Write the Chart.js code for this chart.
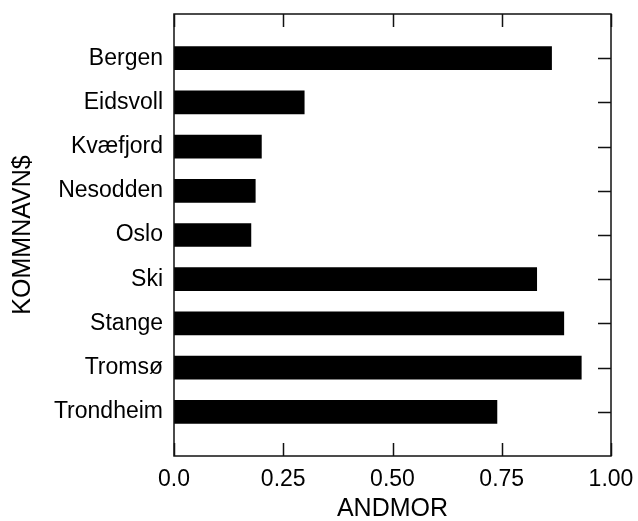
<!DOCTYPE html>
<html>
<head>
<meta charset="utf-8">
<script src="https://cdn.jsdelivr.net/npm/chart.js@4/dist/chart.umd.min.js"></script>
<style>
  html, body { margin: 0; padding: 0; background: #fff; }
  #wrap { width: 638px; height: 521px; }
</style>
</head>
<body>
<div id="wrap"><canvas id="c" width="638" height="521"></canvas></div>
<script>
// Share of mothers (ANDMOR) by municipality
const categories = ['Bergen', 'Eidsvoll', 'Kvæfjord', 'Nesodden', 'Oslo', 'Ski', 'Stange', 'Tromsø', 'Trondheim'];
const andmor = [0.864, 0.298, 0.200, 0.186, 0.176, 0.830, 0.892, 0.932, 0.739];
const xTickValues = [0, 0.25, 0.5, 0.75, 1];
const xTickLabels = ['0.0', '0.25', '0.50', '0.75', '1.00'];

const FAMILY = '"Liberation Sans", Arial, Helvetica, sans-serif';
const TICK_FONT = { family: FAMILY, size: 23 };
const TITLE_FONT = { family: FAMILY, size: 25, lineHeight: 1 };

// Keep the plot area fixed: no extra room reserved for overhanging labels
function noLabelPadding(s) {
  s.paddingTop = 0; s.paddingBottom = 0; s.paddingLeft = 0; s.paddingRight = 0;
}

// Frame around the plot area with inward tick marks
const framePlugin = {
  id: 'frame',
  afterDraw(chart) {
    const { ctx, chartArea: a, scales } = chart;
    const len = 13;
    ctx.save();
    ctx.strokeStyle = '#111';
    ctx.lineWidth = 1.5;
    ctx.strokeRect(a.left, a.top, a.right - a.left, a.bottom - a.top);
    ctx.beginPath();
    xTickValues.forEach(v => {
      const px = Math.round(scales.x.getPixelForValue(v)) + 0.5;
      ctx.moveTo(px, a.bottom); ctx.lineTo(px, a.bottom - len);
      ctx.moveTo(px, a.top); ctx.lineTo(px, a.top + len);
    });
    categories.forEach((c, i) => {
      const py = Math.round(scales.y.getPixelForValue(i + 1)) + 0.5;
      ctx.moveTo(a.right, py); ctx.lineTo(a.right - len, py);
    });
    ctx.stroke();
    ctx.restore();
  }
};

new Chart(document.getElementById('c'), {
  type: 'bar',
  data: {
    datasets: [{
      data: categories.map((c, i) => ({ x: andmor[i], y: i + 1 })),
      backgroundColor: '#000',
      borderWidth: 0,
      barThickness: 23
    }]
  },
  options: {
    indexAxis: 'y',
    responsive: false,
    animation: false,
    layout: { padding: { top: 14, right: 27, left: 0, bottom: 0 } },
    plugins: { legend: { display: false }, tooltip: { enabled: false } },
    scales: {
      x: {
        type: 'linear',
        min: 0, max: 1,
        offset: false,
        afterFit(s) { s.height = 65; noLabelPadding(s); },
        afterBuildTicks(s) { s.ticks = xTickValues.map(v => ({ value: v })); },
        grid: { display: false, drawTicks: false },
        border: { display: false },
        ticks: {
          padding: 10,
          color: '#000',
          font: TICK_FONT,
          maxRotation: 0,
          autoSkip: false,
          callback: (v, i) => xTickLabels[i]
        },
        title: {
          display: true, text: 'ANDMOR', color: '#000',
          font: TITLE_FONT,
          padding: { top: 0, bottom: -1 }
        }
      },
      y: {
        type: 'linear',
        reverse: true,
        min: 0, max: 10,
        offset: false,
        afterFit(s) { s.width = 174; noLabelPadding(s); },
        afterBuildTicks(s) { s.ticks = categories.map((c, i) => ({ value: i + 1 })); },
        grid: { display: false, drawTicks: false, offset: false },
        border: { display: false },
        ticks: {
          padding: 11,
          color: '#000',
          font: TICK_FONT,
          autoSkip: false,
          callback: (v) => categories[v - 1] || ''
        },
        title: {
          display: true, text: 'KOMMNAVN$', color: '#000',
          font: TITLE_FONT,
          padding: { top: 11, bottom: 0 }
        }
      }
    }
  },
  plugins: [framePlugin]
});
</script>
</body>
</html>
